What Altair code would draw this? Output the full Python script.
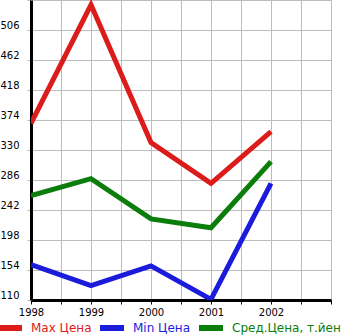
import altair as alt
import pandas as pd

years = [1998, 1999, 2000, 2001, 2002]
max_price = [369, 543, 341, 281, 357]
min_price = [162, 131, 160, 111, 281]
avg_price = [263, 288, 229, 216, 313]
series = ["Max Цена", "Min Цена", "Сред.Цена, т.йен"]
colors = ["#dc1b1b", "#1b1bdc", "#0a7d0a"]
y_ticks = [110, 154, 198, 242, 286, 330, 374, 418, 462, 506, 550]
x_ticks = [1998, 1998.5, 1999, 1999.5, 2000, 2000.5, 2001, 2001.5, 2002, 2002.5, 2003]

rows = []
for name, vals in zip(series, [max_price, min_price, avg_price]):
    for yr, v in zip(years, vals):
        rows.append({"series": name, "year": yr, "value": v})
df = pd.DataFrame(rows)

label_color = ("datum.value == '%s' ? '%s' : datum.value == '%s' ? '%s' : '%s'"
               % (series[0], colors[0], series[1], colors[1], colors[2]))

chart = alt.Chart(df).mark_line(strokeWidth=5, strokeJoin="miter", clip=True).encode(
    x=alt.X("year:Q", scale=alt.Scale(domain=[1998, 2003], nice=False, zero=False),
            axis=alt.Axis(values=x_ticks, title=None, grid=True, gridColor="#bdbdbd",
                          gridWidth=1, domainColor="#000000", domainWidth=3,
                          tickColor="#000000", tickSize=4, tickWidth=1,
                          labelExpr="(datum.value % 1 == 0 && datum.value < 2003) ? format(datum.value, 'd') : ''",
                          labelFont="DejaVu Sans", labelFontSize=10, labelColor="#000000",
                          labelPadding=3, labelFlush=False)),
    y=alt.Y("value:Q", scale=alt.Scale(domain=[110, 550], nice=False, zero=False),
            axis=alt.Axis(values=y_ticks, title=None, grid=True, gridColor="#bdbdbd",
                          gridWidth=1, domainColor="#000000", domainWidth=3,
                          tickColor="#bdbdbd", tickSize=4,
                          labelExpr="datum.value < 550 ? format(datum.value, 'd') : ''",
                          labelAlign="left", labelBaseline="bottom", labelPadding=27,
                          labelFont="DejaVu Sans", labelFontSize=10, labelColor="#000000")),
    color=alt.Color("series:N", scale=alt.Scale(domain=series, range=colors),
                    legend=alt.Legend(title=None, orient="none", direction="horizontal",
                                      legendX=-36, legendY=313, padding=0,
                                      symbolType="stroke", symbolSize=576,
                                      symbolStrokeWidth=6, labelFontSize=12,
                                      labelFont="DejaVu Sans", labelOffset=6,
                                      columnPadding=-4, labelLimit=200,
                                      labelColor=alt.ExprRef(label_color))),
).properties(
    width=300, height=300,
    padding={"left": 31, "top": 0, "right": 14, "bottom": 35},
    autosize=alt.AutoSizeParams(type="none"),
).configure_view(fill="#f7f7f7", stroke=None).configure(background="#ffffff")

chart.save("out.html", embed_options={"renderer": "svg", "actions": False})
